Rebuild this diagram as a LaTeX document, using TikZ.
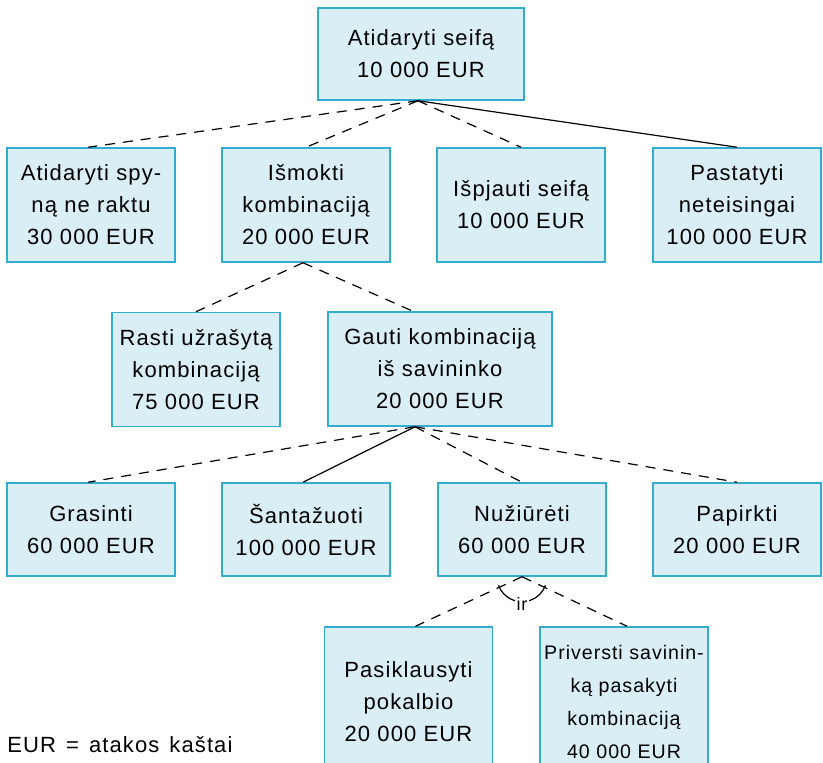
\documentclass[tikz,border=0pt]{standalone}
\usepackage{fontspec}
\setmainfont[LetterSpace=5, WordSpace=1.4]{Liberation Sans}
\definecolor{boxblue}{RGB}{217,238,245}
\definecolor{boxedge}{RGB}{52,172,208}

\begin{document}
\begin{tikzpicture}[x=0.5pt, y=-0.5pt,
    block/.style={rectangle, draw=boxedge, line width=0.75pt, fill=boxblue, text width=82pt, align=center, inner sep=1pt, minimum height=57pt, font=\fontsize{11}{16}\selectfont},
    link/.style={line width=0.6pt},
    orlink/.style={link, dash pattern=on 5pt off 4pt}
]
\useasboundingbox (0,0) rectangle (823,763);

\node[block, text width=101pt, minimum height=46pt] (s0) at (421,54) {Atidaryti seifą\\10 000 EUR};
\node[block] (a1) at (91,205) {Atidaryti spy-\\ną ne raktu\\30 000 EUR};
\node[block] (a2) at (306,205) {Išmokti\\kombinaciją\\20 000 EUR};
\node[block] (a3) at (521,205) {Išpjauti seifą\\10 000 EUR};
\node[block] (a4) at (737,205) {Pastatyti\\neteisingai\\100 000 EUR};
\node[block] (b1) at (196,369.5) {Rasti užrašytą\\kombinaciją\\75 000 EUR};
\node[block, text width=110pt] (b2) at (440,369) {Gauti kombinaciją\\iš savininko\\20 000 EUR};
\node[block, minimum height=46.5pt] (c1) at (91,529.5) {Grasinti\\60 000 EUR};
\node[block, minimum height=46.5pt] (c2) at (306,529.5) {Šantažuoti\\100 000 EUR};
\node[block, minimum height=46.5pt] (c3) at (522,529.5) {Nužiūrėti\\60 000 EUR};
\node[block, minimum height=46.5pt] (c4) at (737,529.5) {Papirkti\\20 000 EUR};
\node[block, minimum height=75pt] (d1) at (408.5,702) {Pasiklausyti\\pokalbio\\20 000 EUR};
\node[block, minimum height=75pt, text width=84pt, inner sep=0pt, font=\fontsize{9.8}{16.5}\selectfont] (d2) at (624,702) {Priversti savinin-\\ką pasakyti\\kombinaciją\\40 000 EUR};
\node[anchor=west, inner sep=0pt, font=\fontsize{11}{16}\selectfont] (note) at (7,745) {EUR = atakos kaštai};

% saves medis
\draw[orlink] ([xshift=-1.5pt]s0.south) -- ([xshift=-1.5pt]a1.north);
\draw[orlink] ([xshift=-1.5pt]s0.south) -- (a2.north);
\draw[orlink] ([xshift=-1.5pt]s0.south) -- (a3.north);
\draw[link] ([xshift=-1.5pt]s0.south) -- (a4.north);

\draw[orlink] ([xshift=-1.5pt]a2.south) -- (b1.north);
\draw[orlink] ([xshift=-1.5pt]a2.south) -- ([xshift=-13.5pt]b2.north);

\draw[orlink] ([xshift=-12.5pt]b2.south) -- ([xshift=-1.5pt]c1.north);
\draw[link] ([xshift=-12.5pt]b2.south) -- ([xshift=-1.5pt]c2.north);
\draw[orlink] ([xshift=-12.5pt]b2.south) -- (c3.north);
\draw[orlink] ([xshift=-12.5pt]b2.south) -- (c4.north);

\coordinate (c3s) at (c3.south);
\draw[orlink] (c3s) -- ([xshift=3.5pt]d1.north);
\draw[orlink] (c3s) -- ([xshift=1.5pt]d2.north);
\draw[link] ([shift={(-160:12.5pt)}]c3s) arc[start angle=-160, end angle=-20, radius=12.5pt];
\node[fill=white, inner sep=1pt, font=\fontsize{9}{11}\selectfont] (ir) at ([yshift=-13.5pt]c3s) {ir};
\end{tikzpicture}
\end{document}
